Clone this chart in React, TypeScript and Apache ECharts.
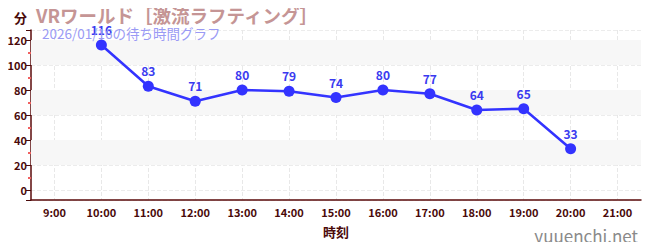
import React, { useEffect, useRef } from "react";
import * as echarts from "echarts";

const hours = ["9:00", "10:00", "11:00", "12:00", "13:00", "14:00", "15:00", "16:00", "17:00", "18:00", "19:00", "20:00", "21:00"];
const waits: (number | null)[] = [null, 116, 83, 71, 80, 79, 74, 80, 77, 64, 65, 33, null];
const bands: [number, number][] = [[20, 40], [60, 80], [100, 120]];
const titleText = "VRワールド［激流ラフティング］";
const subText = "2026/01/16の待ち時間グラフ";

const FONT = "'Noto Sans CJK JP', 'Noto Sans', sans-serif";

export default function App() {
  const ref = useRef<HTMLDivElement>(null);
  useEffect(() => {
    if (!ref.current) return;
    const chart = echarts.init(ref.current, null, { renderer: "svg" });
    chart.setOption({
      animation: false,
      textStyle: { fontFamily: FONT },
      title: [
        {
          text: titleText,
          left: 31,
          top: 1,
          textStyle: { fontSize: 18.5, fontWeight: "bold", color: "#c59595", fontFamily: FONT },
        },
        {
          text: subText,
          left: 37,
          top: 21,
          textStyle: { fontSize: 13.5, fontWeight: "normal", color: "#9a9af5", fontFamily: FONT },
        },
      ],
      graphic: [
        {
          type: "text",
          right: 12,
          bottom: 6,
          style: { text: "yuuenchi.net", fontSize: 17, fill: "#8a8a8a", fontFamily: FONT },
        },
      ],
      grid: { left: 31, right: 9, top: 30, bottom: 50 },
      xAxis: {
        type: "category",
        data: hours,
        boundaryGap: true,
        name: "時刻",
        nameLocation: "middle",
        nameGap: 25,
        nameTextStyle: { fontSize: 13, fontWeight: "bold", color: "#4a0a0a", fontFamily: FONT },
        axisLine: { onZero: false, lineStyle: { color: "#5a0a0a", width: 1.5 } },
        axisTick: { alignWithLabel: true, interval: 0, length: 4, lineStyle: { color: "#888", width: 2 } },
        axisLabel: { interval: 0, fontSize: 11, color: "#4a0a0a", fontWeight: "bold", margin: 6 },
        splitLine: { show: true, interval: 0, alignWithLabel: true, lineStyle: { color: "#e8e8e8", type: "dashed" } },
      },
      yAxis: {
        type: "value",
        min: -8,
        max: 128,
        splitNumber: 7,
        name: "分",
        nameLocation: "end",
        nameGap: 6,
        nameTextStyle: { fontSize: 13, fontWeight: "bold", color: "#4a0a0a", align: "right", padding: [0, 4, 0, 0], fontFamily: FONT },
        axisLine: { show: true, lineStyle: { color: "#5a0a0a", width: 1.5 } },
        axisTick: { show: true, inside: false, length: 5, lineStyle: { color: "#4a0a0a" } },
        minorTick: { show: true, splitNumber: 2, length: 3, lineStyle: { color: "#f06060", width: 2 } },
        axisLabel: {
          fontSize: 11,
          color: "#4a0a0a",
          fontWeight: "bold",
          margin: 4,
          formatter: (v: number) => (v % 20 === 0 ? String(v) : ""),
        },
        splitLine: { show: true, lineStyle: { color: "#ececec", type: "dashed" } },
      },
      series: [
        {
          type: "line",
          data: waits,
          connectNulls: false,
          symbol: "circle",
          symbolSize: 11,
          itemStyle: { color: "#3333ff" },
          lineStyle: { color: "#3333ff", width: 2.5 },
          label: { show: true, position: "top", color: "#3a3af0", fontWeight: "bold", fontSize: 12, distance: 4 },
          markArea: {
            silent: true,
            itemStyle: { color: "#f7f7f7" },
            data: bands.map(([a, b]) => [{ yAxis: a }, { yAxis: b }]),
          },
          z: 5,
        },
      ],
    });
    return () => chart.dispose();
  }, []);
  return <div ref={ref} style={{ width: 650, height: 250, margin: -8 }} />;
}
